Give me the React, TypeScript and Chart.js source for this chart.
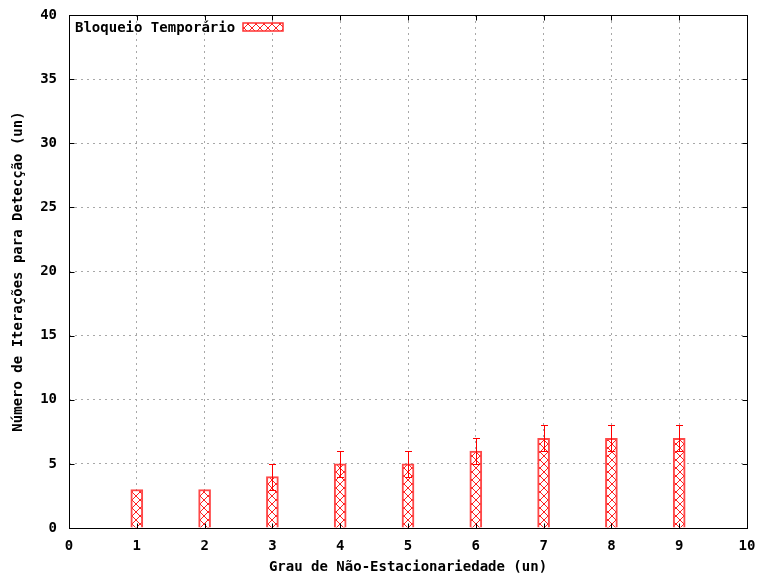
import React, { useEffect, useRef } from "react";
import { Chart, registerables } from "chart.js";

Chart.register(...registerables);

const categories = [1, 2, 3, 4, 5, 6, 7, 8, 9];
const values = [3, 3, 4, 5, 5, 6, 7, 7, 7];
const errLow = [0, 0, 1, 1, 1, 1, 1, 1, 1];
const errHigh = [0, 0, 1, 1, 1, 1, 1, 1, 1];
const seriesLabel = "Bloqueio Temporário";
const xTitle = "Grau de Não-Estacionariedade (un)";
const yTitle = "Número de Iterações para Detecção (un)";
const xMin = 0, xMax = 10, xStep = 1;
const yMin = 0, yMax = 40, yStep = 5;

const FONT = "'DejaVu Sans Mono', 'Liberation Mono', monospace";

function makePattern(): CanvasPattern | string {
  const c = document.createElement("canvas");
  c.width = 8;
  c.height = 8;
  const g = c.getContext("2d");
  if (!g) return "#fff";
  g.fillStyle = "#ffffff";
  g.fillRect(0, 0, 8, 8);
  g.strokeStyle = "#ff2020";
  g.lineWidth = 1;
  g.beginPath();
  g.moveTo(0, 0);
  g.lineTo(8, 8);
  g.moveTo(8, 0);
  g.lineTo(0, 8);
  g.stroke();
  const p = g.createPattern(c, "repeat");
  return p || "#fff";
}

export default function App() {
  const ref = useRef<HTMLCanvasElement | null>(null);
  useEffect(() => {
    const canvas = ref.current;
    if (!canvas) return;
    const pattern = makePattern();

    const overlay = {
      id: "overlay",
      afterDatasetsDraw(chart: any) {
        const ctx = chart.ctx;
        const xs = chart.scales.x;
        const ys = chart.scales.y;
        ctx.save();
        ctx.strokeStyle = "#ff0000";
        ctx.lineWidth = 1;
        categories.forEach((c, i) => {
          if (!errLow[i] && !errHigh[i]) return;
          const px = Math.round(xs.getPixelForValue(c)) + 0.5;
          const y1 = Math.round(ys.getPixelForValue(values[i] - errLow[i])) + 0.5;
          const y2 = Math.round(ys.getPixelForValue(values[i] + errHigh[i])) + 0.5;
          ctx.beginPath();
          ctx.moveTo(px, y1);
          ctx.lineTo(px, y2);
          ctx.moveTo(px - 3.5, y1);
          ctx.lineTo(px + 3.5, y1);
          ctx.moveTo(px - 3.5, y2);
          ctx.lineTo(px + 3.5, y2);
          ctx.stroke();
        });
        ctx.restore();
      },
      afterDraw(chart: any) {
        const ctx = chart.ctx;
        const a = chart.chartArea;
        const xs = chart.scales.x;
        const ys = chart.scales.y;
        ctx.save();
        ctx.strokeStyle = "#000";
        ctx.lineWidth = 1;
        const L = Math.round(a.left) + 0.5;
        const R = Math.round(a.right) + 0.5;
        const T = Math.round(a.top) + 0.5;
        const B = Math.round(a.bottom) + 0.5;
        ctx.strokeRect(L, T, R - L, B - T);
        const tl = 5;
        ctx.beginPath();
        for (let v = xMin; v <= xMax; v += xStep) {
          const px = Math.round(xs.getPixelForValue(v)) + 0.5;
          ctx.moveTo(px, B);
          ctx.lineTo(px, B - tl);
          ctx.moveTo(px, T);
          ctx.lineTo(px, T + tl);
        }
        for (let v = yMin; v <= yMax; v += yStep) {
          const py = Math.round(ys.getPixelForValue(v)) + 0.5;
          ctx.moveTo(L, py);
          ctx.lineTo(L + tl, py);
          ctx.moveTo(R, py);
          ctx.lineTo(R - tl, py);
        }
        ctx.stroke();
        // legend
        ctx.font = "bold 14px " + FONT;
        ctx.fillStyle = "#000";
        ctx.textAlign = "left";
        ctx.textBaseline = "middle";
        ctx.fillText(seriesLabel, 75, 28);
        ctx.fillStyle = pattern as any;
        ctx.fillRect(243, 23, 40, 8);
        ctx.strokeStyle = "#ff3030";
        ctx.lineWidth = 1.5;
        ctx.strokeRect(243, 23, 40, 8);
        ctx.restore();
      },
    };

    const chart = new Chart(canvas, {
      type: "bar",
      data: {
        datasets: [
          {
            label: seriesLabel,
            data: categories.map((c, i) => ({ x: c, y: values[i] })),
            backgroundColor: pattern as any,
            borderColor: "rgba(255,40,40,0.85)",
            borderWidth: 2,
            barThickness: 12,
          },
        ],
      },
      options: {
        responsive: false,
        animation: false,
        layout: { padding: { left: 0, right: 17, top: 15, bottom: 0 } },
        plugins: {
          legend: { display: false },
          tooltip: { enabled: false },
        },
        scales: {
          x: {
            type: "linear",
            min: xMin,
            max: xMax,
            offset: false,
            ticks: {
              stepSize: xStep,
              color: "#000",
              padding: 10,
              font: { family: FONT, size: 14, weight: "bold" },
            },
            grid: {
              offset: false,
              color: "#a8a8a8",
              drawTicks: false,
              tickLength: 0,
            },
            border: { display: false, dash: [2, 4] },
            title: {
              display: true,
              text: xTitle,
              color: "#000",
              padding: { top: 0, bottom: 1 },
              font: { family: FONT, size: 14, weight: "bold" },
            },
            afterFit(scale: any) {
              scale.height = 49;
              scale.paddingLeft = 0;
              scale.paddingRight = 0;
            },
          },
          y: {
            type: "linear",
            min: yMin,
            max: yMax,
            ticks: {
              stepSize: yStep,
              color: "#000",
              padding: 12,
              font: { family: FONT, size: 14, weight: "bold" },
            },
            grid: {
              color: "#a8a8a8",
              drawTicks: false,
              tickLength: 0,
            },
            border: { display: false, dash: [2, 4] },
            title: {
              display: true,
              text: yTitle,
              color: "#000",
              padding: { top: 10, bottom: 0 },
              font: { family: FONT, size: 14, weight: "bold" },
            },
            afterFit(scale: any) {
              scale.width = 69;
              scale.paddingTop = 0;
              scale.paddingBottom = 0;
            },
          },
        },
      },
      plugins: [overlay],
    } as any);
    return () => chart.destroy();
  }, []);

  return (
    <div style={{ position: "fixed", left: 0, top: 0, width: 764, height: 577, background: "#fff" }}>
      <canvas ref={ref} width={764} height={577} style={{ display: "block" }} />
    </div>
  );
}
